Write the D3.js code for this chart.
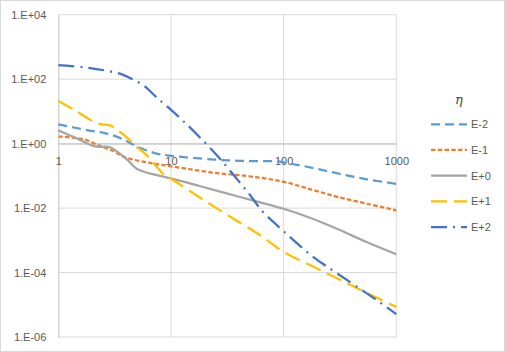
<!DOCTYPE html>
<html>
<head>
<meta charset="utf-8">
<script src="https://cdn.jsdelivr.net/npm/d3@7"></script>
<style>
  body { margin: 0; background: #fff; }
  svg { display: block; font-family: "Liberation Sans", Arial, sans-serif; }
</style>
</head>
<body>
<svg id="chart" width="505" height="352"></svg>
<script>
// values (log-log chart)
var seriesNames = ['E-2', 'E-1', 'E+0', 'E+1', 'E+2'];

var xE2 = [1, 1.84, 2.59, 3.64, 5.1, 7.18, 10, 24.4, 47.5, 88, 100, 180, 311, 551, 1000];
var yE2 = [3.97, 2.58, 2.13, 1.43, 0.785, 0.51, 0.42, 0.319, 0.289, 0.282, 0.26, 0.178, 0.116, 0.078, 0.0567];

var xE1 = [1, 1.72, 2.26, 2.97, 3.89, 5.85, 10, 24.4, 49.7, 100, 179.5, 311, 551, 1000];
var yE1 = [1.68, 1.33, 0.89, 0.62, 0.38, 0.27, 0.198, 0.124, 0.0968, 0.0654, 0.0369, 0.0216, 0.0136, 0.0085];

var xE0 = [1, 1.405, 2.11, 2.87, 3.52, 4.16, 4.94, 5.85, 7.18, 8.8, 10, 17.9, 31.8, 56.2, 100, 176, 311, 551, 1000];
var yE0 = [2.58, 1.54, 0.82, 0.77, 0.49, 0.3, 0.168, 0.132, 0.109, 0.092, 0.084, 0.0484, 0.0281, 0.0164, 0.0095, 0.00483, 0.00212, 0.00087, 0.00037];

var xEp1 = [1, 1.405, 2.19, 2.87, 3.37, 4.06, 4.77, 5.86, 6.78, 7.97, 8.8, 10, 17.9, 33, 61, 100, 180, 311, 551, 1000];
var yEp1 = [20.9, 10.8, 4.35, 3.69, 2.58, 1.57, 0.886, 0.5, 0.283, 0.149, 0.1005, 0.081, 0.0216, 0.0056, 0.00149, 0.000435, 0.000157, 0.0000622, 0.0000231, 0.0000086];

var xEp2 = [1, 1.72, 2.59, 3.66, 4.77, 5.85, 7.47, 9.35, 13.2, 19.9, 27, 37.4, 49.7, 64.7, 82.7, 101, 138, 179.5, 229, 311, 468, 703, 1000];
var yEp2 = [274, 232, 187, 141, 92, 60, 27, 13.8, 4.6, 1.1, 0.35, 0.09, 0.0268, 0.008, 0.0035, 0.00184, 0.0007, 0.00032, 0.000175, 0.0000855, 0.0000326, 0.0000124, 0.0000051];

var xTicks = [1, 10, 100, 1000];
var xTickLabels = ['1', '10', '100', '1000'];
var yTicks = [1e-6, 1e-4, 1e-2, 1, 1e2, 1e4];
var yTickLabels = ['1.E-06', '1.E-04', '1.E-02', '1.E+00', '1.E+02', '1.E+04'];

var legendTitle = '\u03B7';

// styles
var colors = ['#5B9BD5', '#ED7D31', '#A5A5A5', '#FFC000', '#4472C4'];
var dashes = ['9,5', '4.5,2.25', null, '16,7', '16,6,2,6'];

var svg = d3.select('#chart');

// outer chart border
svg.append('rect')
    .attr('x', 0.5).attr('y', 0.5)
    .attr('width', 504).attr('height', 351)
    .attr('fill', '#fff')
    .attr('stroke', '#d9d9d9');

var plot = { left: 58.3, right: 396.3, top: 14.7, bottom: 337 };

var x = d3.scaleLog().domain([1, 1000]).range([plot.left, plot.right]);
var y = d3.scaleLog().domain([1e-6, 1e4]).range([plot.bottom, plot.top]);

// gridlines
svg.append('g').selectAll('line')
    .data(yTicks)
    .enter().append('line')
    .attr('x1', plot.left).attr('x2', plot.right)
    .attr('y1', function(d){ return y(d); })
    .attr('y2', function(d){ return y(d); })
    .attr('stroke', '#d9d9d9').attr('stroke-width', 1);

svg.append('g').selectAll('line')
    .data(xTicks.slice(1))
    .enter().append('line')
    .attr('y1', plot.top).attr('y2', plot.bottom)
    .attr('x1', function(d){ return x(d); })
    .attr('x2', function(d){ return x(d); })
    .attr('stroke', '#d9d9d9').attr('stroke-width', 1);

// y axis labels (left)
var yAxis = svg.append('g')
    .attr('transform', 'translate(' + plot.left + ',0)')
    .call(d3.axisLeft(y).tickValues(yTicks)
        .tickFormat(function(d, i){ return yTickLabels[i]; })
        .tickSize(0).tickPadding(12));
yAxis.select('.domain').attr('stroke', '#bfbfbf');
yAxis.selectAll('text').attr('fill', '#595959').style('font-size', '11px')
    .style('font-family', '"Liberation Sans", Arial, sans-serif');

// x axis crosses at y = 1
var xAxis = svg.append('g')
    .attr('transform', 'translate(0,' + y(1) + ')')
    .call(d3.axisBottom(x).tickValues(xTicks)
        .tickFormat(function(d, i){ return xTickLabels[i]; })
        .tickSize(0).tickPadding(14));
xAxis.select('.domain').attr('stroke', '#bfbfbf');
xAxis.selectAll('text').attr('fill', '#595959').style('font-size', '11px')
    .style('font-family', '"Liberation Sans", Arial, sans-serif');

// series lines
var allX = [xE2, xE1, xE0, xEp1, xEp2];
var allY = [yE2, yE1, yE0, yEp1, yEp2];

var line = d3.line()
    .x(function(d){ return x(d[0]); })
    .y(function(d){ return y(d[1]); })
    .curve(d3.curveCatmullRom.alpha(0.5));

for (var s = 0; s < seriesNames.length; s++) {
    var pts = d3.zip(allX[s], allY[s]);
    svg.append('path')
        .datum(pts)
        .attr('d', line)
        .attr('fill', 'none')
        .attr('stroke', colors[s])
        .attr('stroke-width', 2.25)
        .attr('stroke-dasharray', dashes[s]);
}

// legend
var legend = svg.append('g');
legend.append('text')
    .attr('x', 459).attr('y', 104)
    .attr('text-anchor', 'middle')
    .attr('fill', '#404040')
    .style('font-family', '"DejaVu Serif", serif')
    .style('font-style', 'italic')
    .style('font-size', '13px')
    .text(legendTitle);

var legendY = d3.scalePoint().domain(seriesNames).range([124.3, 227]);

seriesNames.forEach(function(name, i){
    var ly = legendY(name);
    legend.append('line')
        .attr('x1', 431).attr('x2', 467)
        .attr('y1', ly).attr('y2', ly)
        .attr('stroke', colors[i])
        .attr('stroke-width', 2.25)
        .attr('stroke-dasharray', dashes[i]);
    legend.append('text')
        .attr('x', 471).attr('y', ly + 4)
        .attr('fill', '#595959')
        .style('font-size', '11px')
        .text(name);
});
</script>
</body>
</html>
